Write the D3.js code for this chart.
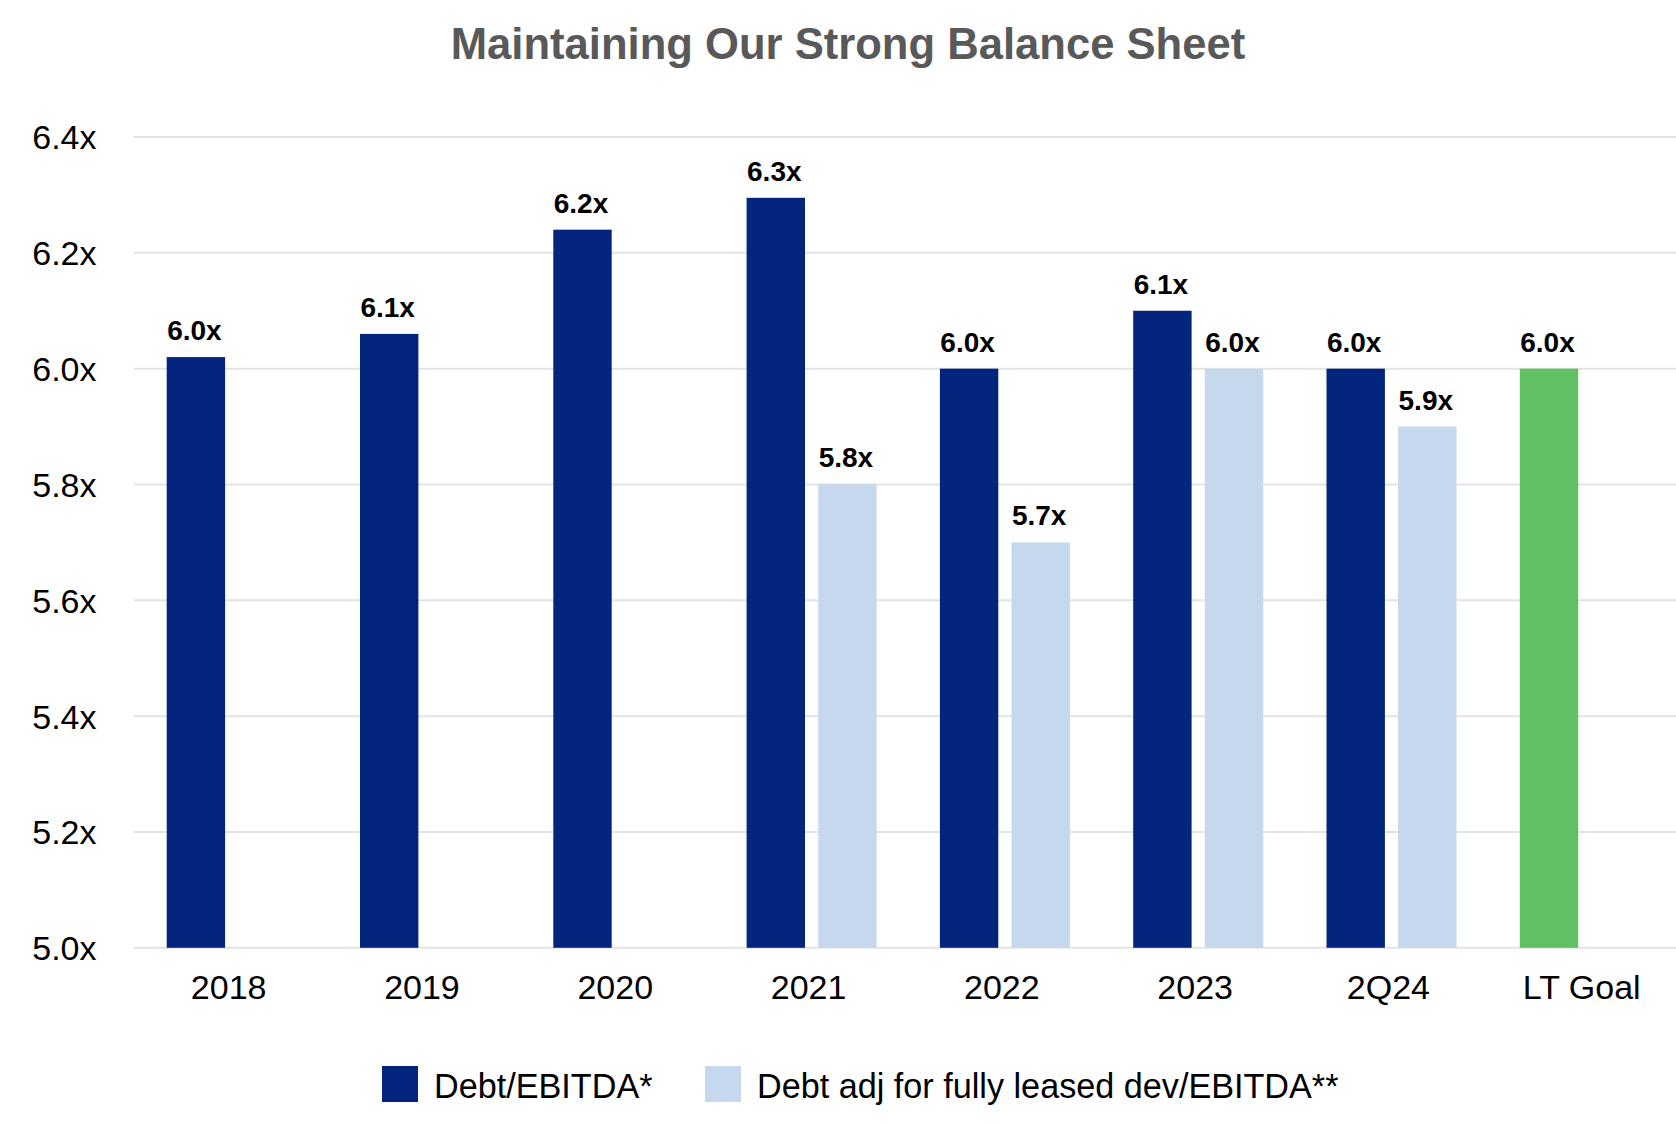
<!DOCTYPE html>
<html>
<head>
<meta charset="utf-8">
<script src="https://cdn.jsdelivr.net/npm/d3@7"></script>
<style>
  html, body { margin: 0; padding: 0; background: #ffffff; }
  svg { display: block; font-family: "Liberation Sans", Arial, Helvetica, sans-serif; }
</style>
</head>
<body>
<svg id="chart" width="1676" height="1125"></svg>
<script>
// ---- Data ----
const title = "Maintaining Our Strong Balance Sheet";
const categories = ["2018", "2019", "2020", "2021", "2022", "2023", "2Q24", "LT Goal"];
const seriesNames = ["Debt/EBITDA*", "Debt adj for fully leased dev/EBITDA**"];
// Debt/EBITDA (dark) — LT Goal drawn in green
const debtEbitda = [6.02, 6.06, 6.24, 6.295, 6.0, 6.1, 6.0, 6.0];
const debtEbitdaLabels = ["6.0x", "6.1x", "6.2x", "6.3x", "6.0x", "6.1x", "6.0x", "6.0x"];
// Debt adj for fully leased dev/EBITDA (light); null = no bar
const debtAdj = [null, null, null, 5.8, 5.7, 6.0, 5.9, null];
const debtAdjLabels = [null, null, null, "5.8x", "5.7x", "6.0x", "5.9x", null];
const yTicks = [5.0, 5.2, 5.4, 5.6, 5.8, 6.0, 6.2, 6.4];
const yTickLabels = ["5.0x", "5.2x", "5.4x", "5.6x", "5.8x", "6.0x", "6.2x", "6.4x"];

const colors = { dark: "#04257D", light: "#C5D8EE", goal: "#62C064", grid: "#E3E3E3", title: "#595959" };

// ---- Layout ----
const svg = d3.select("#chart");
const plotLeft = 134, plotRight = 1676;
const x0 = d3.scaleBand().domain(categories).range([132, 132 + 8 * 193.3]).padding(0);
const x1 = d3.scaleBand().domain(seriesNames).range([34.7, 164.7]).paddingInner(0.1844).paddingOuter(0);
const y = d3.scaleLinear().domain([5.0, 6.4]).range([947.8, 137.0]);

// Title
svg.append("text")
  .attr("x", 848).attr("y", 58.5)
  .attr("text-anchor", "middle")
  .attr("font-size", 43.6).attr("font-weight", "bold")
  .attr("fill", colors.title)
  .text(title);

// Gridlines
svg.append("g").selectAll("line").data(yTicks).join("line")
  .attr("x1", plotLeft).attr("x2", plotRight)
  .attr("y1", d => y(d)).attr("y2", d => y(d))
  .attr("stroke", colors.grid).attr("stroke-width", 2);

// Y axis labels
const yAxis = d3.axisLeft(y).tickValues(yTicks).tickSize(0).tickPadding(0)
  .tickFormat((d, i) => yTickLabels[i]);
const gy = svg.append("g").attr("transform", "translate(96.5,0)").call(yAxis);
gy.select(".domain").remove();
gy.selectAll("text").attr("font-size", 34).attr("fill", "#000")
  .attr("font-family", "\"Liberation Sans\", Arial, sans-serif").attr("dy", "0.35em");

// X axis labels
const xAxis = d3.axisBottom(x0).tickSize(0).tickPadding(0);
const gx = svg.append("g").attr("transform", "translate(0,998.5)").call(xAxis);
gx.select(".domain").remove();
gx.selectAll("text").attr("font-size", 34).attr("fill", "#000")
  .attr("font-family", "\"Liberation Sans\", Arial, sans-serif").attr("dy", 0);

// Bars
const rows = categories.map((c, i) => ({ cat: c, i }));
const bars = svg.append("g");
// dark series
bars.selectAll("rect.dark").data(rows).join("rect")
  .attr("class", "dark")
  .attr("x", d => x0(d.cat) + x1(seriesNames[0]))
  .attr("width", x1.bandwidth())
  .attr("y", d => y(debtEbitda[d.i]))
  .attr("height", d => y(5.0) - y(debtEbitda[d.i]))
  .attr("fill", d => d.cat === "LT Goal" ? colors.goal : colors.dark);
// light series
const lightRows = rows.filter(d => debtAdj[d.i] !== null);
bars.selectAll("rect.light").data(lightRows).join("rect")
  .attr("class", "light")
  .attr("x", d => x0(d.cat) + x1(seriesNames[1]))
  .attr("width", x1.bandwidth())
  .attr("y", d => y(debtAdj[d.i]))
  .attr("height", d => y(5.0) - y(debtAdj[d.i]))
  .attr("fill", colors.light);

// Value labels
const labels = svg.append("g").attr("font-size", 28).attr("font-weight", "bold").attr("fill", "#000")
  .attr("text-anchor", "middle");
labels.selectAll("text.dl").data(rows).join("text")
  .attr("class", "dl")
  .attr("x", d => x0(d.cat) + x1(seriesNames[0]) + x1.bandwidth() / 2 - 1.5)
  .attr("y", d => y(debtEbitda[d.i]) - 17)
  .text(d => debtEbitdaLabels[d.i]);
labels.selectAll("text.ll").data(lightRows).join("text")
  .attr("class", "ll")
  .attr("x", d => x0(d.cat) + x1(seriesNames[1]) + x1.bandwidth() / 2 - 1.5)
  .attr("y", d => y(debtAdj[d.i]) - 17)
  .text(d => debtAdjLabels[d.i]);

// Legend
const legendItems = [
  { name: seriesNames[0], color: colors.dark, x: 382 },
  { name: seriesNames[1], color: colors.light, x: 705 }
];
const lg = svg.append("g");
const li = lg.selectAll("g").data(legendItems).join("g")
  .attr("transform", d => `translate(${d.x},1066)`);
li.append("rect").attr("width", 36).attr("height", 36).attr("fill", d => d.color);
li.append("text").attr("x", 52).attr("y", 32.3)
  .attr("font-size", 34.2).attr("fill", "#000")
  .text(d => d.name);
</script>
</body>
</html>
